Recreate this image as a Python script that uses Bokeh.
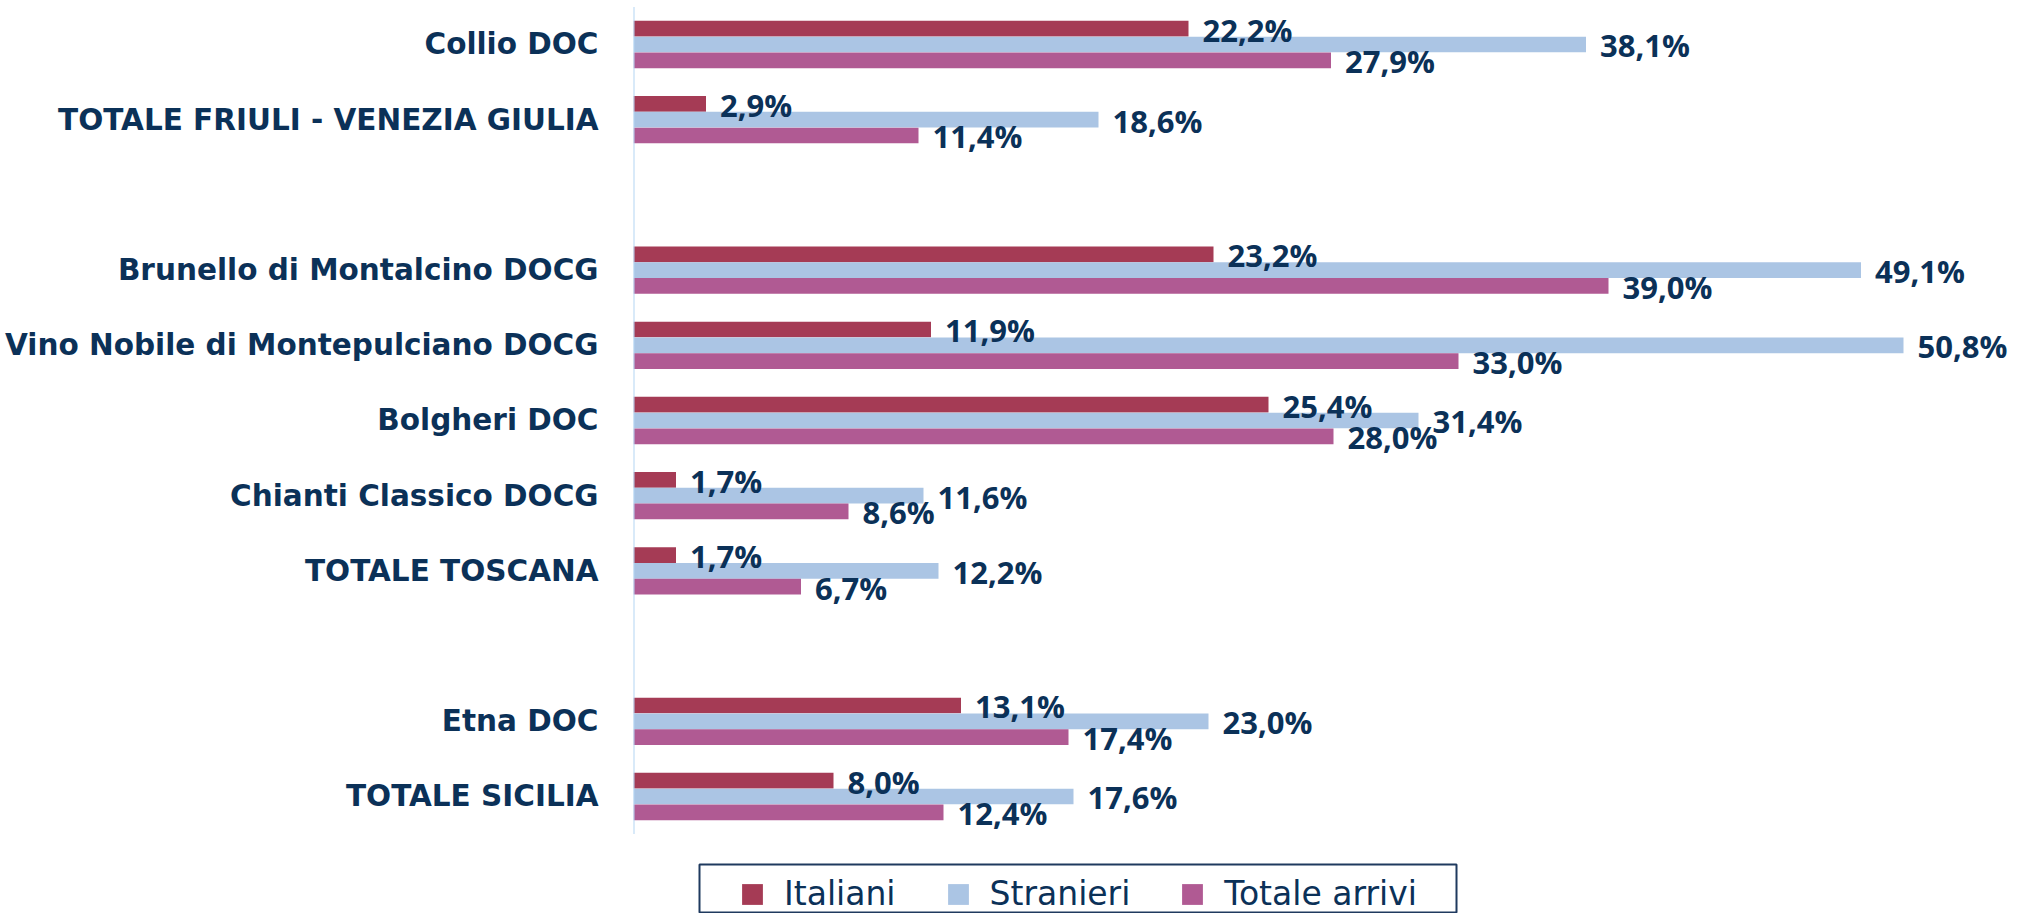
from bokeh.plotting import figure
from bokeh.models import (Range1d, FixedTicker, ColumnDataSource, Legend,
                          LegendItem, BoxAnnotation)
from bokeh.transform import dodge
from bokeh.core.properties import value
from bokeh.embed import file_html
from bokeh.resources import INLINE

# ---------------- data ----------------
categories = [
    "Collio DOC",
    "TOTALE FRIULI - VENEZIA GIULIA",
    "",
    "Brunello di Montalcino DOCG",
    "Vino Nobile di Montepulciano DOCG",
    "Bolgheri DOC",
    "Chianti Classico DOCG",
    "TOTALE TOSCANA",
    "",
    "Etna DOC",
    "TOTALE SICILIA",
]
italiani = [22.2, 2.9, None, 23.2, 11.9, 25.4, 1.7, 1.7, None, 13.1, 8.0]
stranieri = [38.1, 18.6, None, 49.1, 50.8, 31.4, 11.6, 12.2, None, 23.0, 17.6]
totale_arrivi = [27.9, 11.4, None, 39.0, 33.0, 28.0, 8.6, 6.7, None, 17.4, 12.4]
series_names = ["Italiani", "Stranieri", "Totale arrivi"]
series_values = [italiani, stranieri, totale_arrivi]
colors = ["#a53b55", "#abc5e4", "#b05a93"]
offsets = [-0.21, 0.0, 0.21]

TEXT = "#0b3158"

W, H = 2010, 913
p = figure(width=W, height=H, output_backend="svg", toolbar_location=None,
           x_range=Range1d(0, 55.08), y_range=Range1d(11.556, -0.585),
           min_border_left=633, min_border_right=0, min_border_top=0,
           min_border_bottom=0, outline_line_color=None)
p.xaxis.visible = False
p.xgrid.visible = False
p.ygrid.visible = False
p.background_fill_color = "white"

idx = [i for i, c in enumerate(categories) if c]
yax = p.yaxis[0]
yax.ticker = FixedTicker(ticks=idx)
yax.major_label_overrides = {i: categories[i] for i in idx}
yax.major_tick_in = 0
yax.major_tick_out = 0
yax.minor_tick_in = 0
yax.minor_tick_out = 0
yax.axis_line_color = None
yax.major_label_standoff = 35
yax.major_label_text_font = "DejaVu Sans"
yax.major_label_text_font_style = "bold"
yax.major_label_text_font_size = "29.5px"
yax.major_label_text_color = TEXT

renderers = []
sources = []
for name, vals, col, off in zip(series_names, series_values, colors, offsets):
    vs = [vals[i] for i in idx]
    labels = [f"{v:.1f}".replace(".", ",") + "%" for v in vs]
    src = ColumnDataSource(dict(y=idx, v=vs, label=labels))
    sources.append((src, off))
    r = p.hbar(y=dodge("y", off), left=0, right="v", height=0.209,
               fill_color=col, line_color=None, source=src)
    renderers.append(r)

# vertical axis line spanning the category slots
p.segment(x0=[0], y0=[-0.5], x1=[0], y1=[len(categories) - 0.5],
          line_color="#b4d6f4", line_width=2)

for src, off in sources:
    p.text(x="v", y=dodge("y", off), text="label", source=src,
           x_offset=14, y_offset=1, text_baseline="middle", text_align="left",
           text_font=value("Open Sans"), text_font_style="bold",
           text_font_size="31px", text_color=TEXT)

# legend frame (screen units relative to the plot frame, y from bottom)
box = BoxAnnotation(left=66, right=823, top=49, bottom=1,
                    left_units="screen", right_units="screen",
                    top_units="screen", bottom_units="screen",
                    fill_color="white", fill_alpha=1.0,
                    line_color="#1f3a5f", line_alpha=1.0, line_width=2,
                    level="overlay")
p.add_layout(box)

legend = Legend(items=[LegendItem(label=n, renderers=[r])
                       for n, r in zip(series_names, renderers)],
                orientation="horizontal", location=(106, 0),
                glyph_width=26, glyph_height=26, label_standoff=19,
                spacing=49, padding=0, margin=0,
                border_line_color=None, background_fill_alpha=0,
                label_text_font="DejaVu Sans", label_text_font_size="33px",
                label_text_color=TEXT)
p.add_layout(legend, "center")

open("out.html", "w").write(file_html(p, INLINE))
